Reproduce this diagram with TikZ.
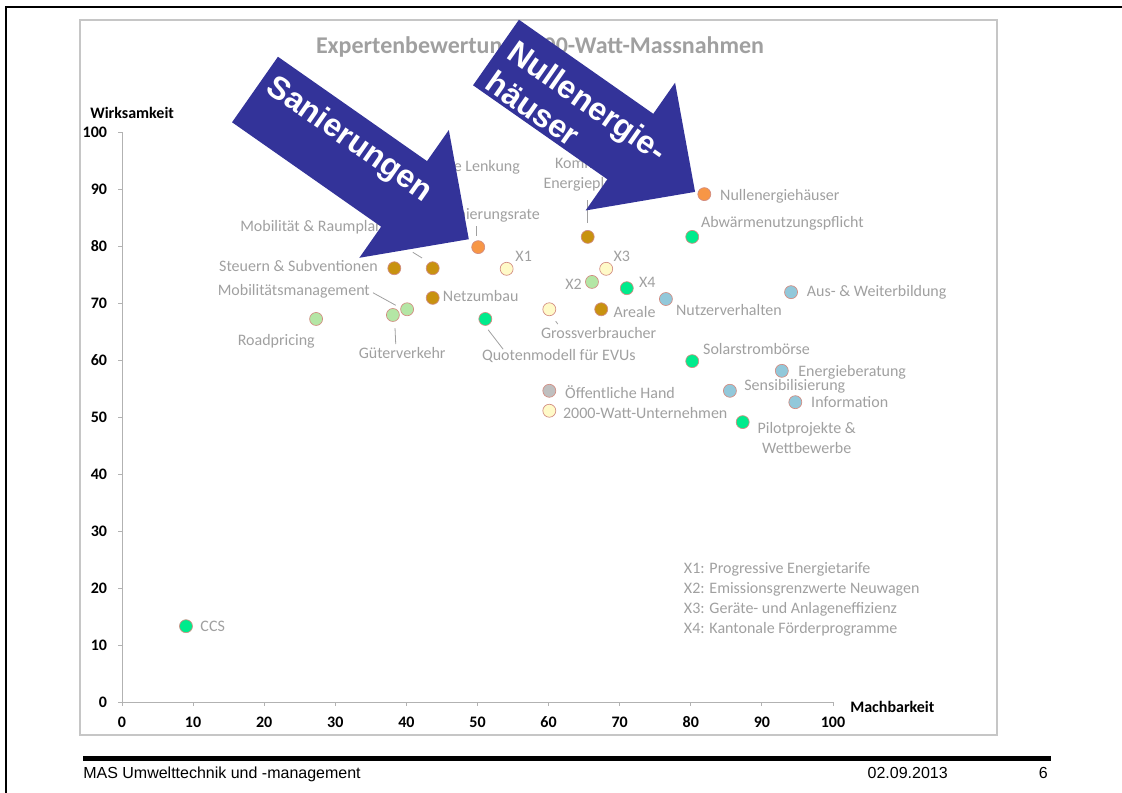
\documentclass[tikz,border=0pt]{standalone}
\usepackage{fontspec}
\setmainfont{Carlito}
\newfontfamily\arialfont{Liberation Sans}

\definecolor{ptorange}{RGB}{247,150,70}
\definecolor{ptbrown}{RGB}{200,146,16}
\definecolor{ptgreen}{RGB}{0,235,140}
\definecolor{ptlgreen}{RGB}{180,230,165}
\definecolor{ptyellow}{RGB}{255,250,200}
\definecolor{ptblue}{RGB}{146,200,218}
\definecolor{ptgray}{RGB}{191,191,191}
\definecolor{ptedge}{RGB}{210,140,130}
\definecolor{lblgray}{RGB}{160,160,160}
\definecolor{axisgray}{RGB}{178,178,178}
\definecolor{arrowblue}{RGB}{51,51,153}

\begin{document}
\begin{tikzpicture}[x=0.75pt, y=-0.75pt,
    mpoint/.style={circle, draw=ptedge, line width=0.5pt, minimum size=9.75pt, inner sep=0pt},
    orangept/.style={mpoint, fill=ptorange},
    brownpt/.style={mpoint, fill=ptbrown},
    greenpt/.style={mpoint, fill=ptgreen},
    lgreenpt/.style={mpoint, fill=ptlgreen},
    yellowpt/.style={mpoint, fill=ptyellow},
    bluept/.style={mpoint, fill=ptblue},
    graypt/.style={mpoint, fill=ptgray},
    lbl/.style={text=lblgray, font=\fontsize{12pt}{14.5pt}\selectfont, inner sep=0pt},
    leader/.style={draw=lblgray, line width=0.6pt},
    axisline/.style={draw=axisgray, line width=0.75pt},
    ticklbl/.style={font=\fontsize{12pt}{14pt}\selectfont\bfseries, inner sep=0pt},
    titlelbl/.style={text=lblgray, font=\fontsize{18pt}{22pt}\selectfont\bfseries, inner sep=0pt},
    arrowtxt/.style={text=white, font=\arialfont\fontsize{24pt}{28pt}\selectfont\bfseries, inner sep=0pt},
    footlbl/.style={font=\arialfont\fontsize{12pt}{14pt}\selectfont, inner sep=0pt}]
    \useasboundingbox (0,0) rectangle (1122,793);

    % Folienrand
    \draw [line width=2pt] (6,793) -- (6,7) -- (1122,7);
    % Diagrammflaeche
    \draw [draw=gray!45, line width=0.9pt] (80,20) rectangle (997,735);
    % Titel
    \node [titlelbl, anchor=base] (title) at (540,53) {Expertenbewertung 2000-Watt-Massnahmen};

    \begin{scope}[shift={(122,702)}, x=5.3325pt, y=4.275pt]
        % Achsen
        \draw [axisline] (0,0) -- (100,0);
        \draw [axisline] (0,0) -- (0,100);
        \foreach \v in {0,10,...,100} {
            \draw [axisline] (\v,0) -- +(0pt,-3pt);
            \draw [axisline] (0,\v) -- +(-3pt,0pt);
            \node [ticklbl, yshift=-15pt] (xt\v) at (\v,0) {\v};
            \node [ticklbl, anchor=east, xshift=-11pt] (yt\v) at (0,\v) {\v};
        }
        \node [ticklbl, anchor=west] (ylab) at (-4.5,103.3) {Wirksamkeit};
        \node [ticklbl, anchor=west] (xlab) at (102.4,-0.9) {Machbarkeit};

        % Massnahmen (orange)
        \node [orangept] (nh) at (81.9,89.1) {};
        \node [lbl, anchor=west] (nhl) at (84.1,88.8) {Nullenergiehäuser};
        \node [orangept] (sr) at (50.1,79.8) {};
        \node [lbl, anchor=east] (srl) at (58.8,85.4) {Sanierungsrate};
        \coordinate (sr1) at (49.8,81.8);
        \coordinate (sr2) at (49.8,83.5);
        \draw [leader] (sr1) -- (sr2);

        % Massnahmen (braun)
        \node [lbl, anchor=east] (oll) at (56.0,94.0) {Ökologische Lenkung};
        \node [brownpt] (ke) at (65.5,81.6) {};
        \node [lbl, align=center] (kel) at (66.4,92.6) {Kommunale\\Energieplanung};
        \coordinate (ke1) at (65.5,84.0);
        \coordinate (ke2) at (65.5,88.1);
        \draw [leader] (ke1) -- (ke2);
        \node [brownpt] (ss) at (38.3,76.1) {};
        \node [lbl, anchor=east] (ssl) at (36.0,76.5) {Steuern \& Subventionen};
        \node [brownpt] (mr) at (43.7,76.1) {};
        \node [lbl, anchor=west] (mrl) at (16.6,83.3) {Mobilität \& Raumplanung};
        \coordinate (mr1) at (40.9,78.9);
        \coordinate (mr2) at (42.2,77.9);
        \draw [leader] (mr1) -- (mr2);
        \node [brownpt] (nz) at (43.7,70.9) {};
        \node [lbl, anchor=west] (nzl) at (45.1,71.2) {Netzumbau};
        \node [brownpt] (ar) at (67.4,68.9) {};
        \node [lbl, anchor=west] (arl) at (69.1,68.4) {Areale};

        % Massnahmen (gruen)
        \node [greenpt] (aw) at (80.2,81.6) {};
        \node [lbl, anchor=west] (awl) at (81.4,84.0) {Abwärmenutzungspflicht};
        \node [greenpt] (x4) at (71.0,72.6) {};
        \node [lbl, anchor=west] (x4l) at (72.7,73.7) {X4};
        \node [greenpt] (qm) at (51.1,67.2) {};
        \node [lbl, anchor=west] (qml) at (50.6,60.7) {Quotenmodell für EVUs};
        \coordinate (qm1) at (51.5,65.3);
        \coordinate (qm2) at (53.6,61.9);
        \draw [leader] (qm1) -- (qm2);
        \node [greenpt] (sb) at (80.2,59.8) {};
        \node [lbl, anchor=west] (sbl) at (81.7,61.9) {Solarstrombörse};
        \node [greenpt] (pp) at (87.3,49.1) {};
        \node [lbl, align=center] (ppl) at (96.3,46.3) {Pilotprojekte \&\\Wettbewerbe};
        \node [greenpt] (ccs) at (9.0,13.3) {};
        \node [lbl, anchor=west] (ccsl) at (11.0,13.3) {CCS};

        % Massnahmen (hellgruen)
        \node [lgreenpt] (x2) at (66.1,73.7) {};
        \node [lbl, anchor=east] (x2l) at (64.7,73.2) {X2};
        \node [lgreenpt] (mm) at (40.1,68.9) {};
        \node [lbl, anchor=east] (mml) at (34.9,72.1) {Mobilitätsmanagement};
        \coordinate (mm1) at (35.3,71.8);
        \coordinate (mm2) at (38.5,69.6);
        \draw [leader] (mm1) -- (mm2);
        \node [lgreenpt] (gv) at (38.1,67.9) {};
        \node [lbl] (gvl) at (39.4,61.2) {Güterverkehr};
        \coordinate (gv1) at (38.4,65.6);
        \coordinate (gv2) at (38.5,62.8);
        \draw [leader] (gv1) -- (gv2);
        \node [lgreenpt] (rp) at (27.3,67.2) {};
        \node [lbl] (rpl) at (21.7,63.2) {Roadpricing};

        % Massnahmen (gelb)
        \node [yellowpt] (x1) at (54.1,76.0) {};
        \node [lbl, anchor=west] (x1l) at (55.3,78.1) {X1};
        \node [yellowpt] (x3) at (68.1,76.0) {};
        \node [lbl, anchor=west] (x3l) at (69.1,78.2) {X3};
        \node [yellowpt] (gb) at (60.1,68.9) {};
        \node [lbl, anchor=west] (gbl) at (58.9,64.7) {Grossverbraucher};
        \coordinate (gb1) at (61.0,66.8);
        \coordinate (gb2) at (61.3,66.3);
        \draw [leader] (gb1) -- (gb2);
        \node [yellowpt] (wu) at (60.1,51.1) {};
        \node [lbl, anchor=west] (wul) at (62.0,50.7) {2000-Watt-Unternehmen};

        % Massnahmen (blau)
        \node [bluept] (nv) at (76.5,70.7) {};
        \node [lbl, anchor=west] (nvl) at (77.9,68.8) {Nutzerverhalten};
        \node [bluept] (wb) at (94.1,71.9) {};
        \node [lbl, anchor=west] (wbl) at (96.3,71.8) {Aus- \& Weiterbildung};
        \node [bluept] (eb) at (92.8,58.1) {};
        \node [lbl, anchor=west] (ebl) at (95.1,57.9) {Energieberatung};
        \node [bluept] (sn) at (85.5,54.6) {};
        \node [lbl, anchor=west] (snl) at (87.5,55.3) {Sensibilisierung};
        \node [bluept] (inf) at (94.7,52.6) {};
        \node [lbl, anchor=west] (infl) at (96.9,52.6) {Information};

        % Massnahmen (grau)
        \node [graypt] (oh) at (60.1,54.6) {};
        \node [lbl, anchor=west] (ohl) at (62.3,54.4) {Öffentliche Hand};

        % Legende
        \node [lbl, anchor=west] (leg1) at (79.0,23.3) {X1: Progressive Energietarife};
        \node [lbl, anchor=west] (leg2) at (79.0,19.8) {X2: Emissionsgrenzwerte Neuwagen};
        \node [lbl, anchor=west] (leg3) at (79.0,16.3) {X3: Geräte- und Anlageneffizienz};
        \node [lbl, anchor=west] (leg4) at (79.0,12.8) {X4: Kantonale Förderprogramme};
    \end{scope}

    % Pfeil Sanierungen
    \begin{scope}[shift={(255,89.5)}, rotate=-35]
        \fill [arrowblue] (0,-40) -- (182,-40) -- (182,-78) -- (261,0) -- (182,78) -- (182,40) -- (0,40) -- cycle;
    \end{scope}
    \node [arrowtxt, rotate=-35] (santxt) at (349,140) {Sanierungen};

    % Pfeil Nullenergiehaeuser
    \begin{scope}[shift={(496,52.5)}, rotate=-35]
        \fill [arrowblue] (0,-40) -- (164,-40) -- (164,-78) -- (243,0) -- (164,78) -- (164,40) -- (0,40) -- cycle;
    \end{scope}
    \node [arrowtxt, align=left, anchor=west, rotate=-35] (nhtxt) at (501,63) {Nullenergie-\\häuser};

    % Fusszeile
    \fill (83,756) rectangle (1051,761);
    \node [footlbl, anchor=base west] (foot) at (83,778) {MAS Umwelttechnik und -management};
    \node [footlbl, anchor=base east] (date) at (948,778) {02.09.2013};
    \node [footlbl, anchor=base east] (page) at (1048,778) {6};
\end{tikzpicture}
\end{document}
